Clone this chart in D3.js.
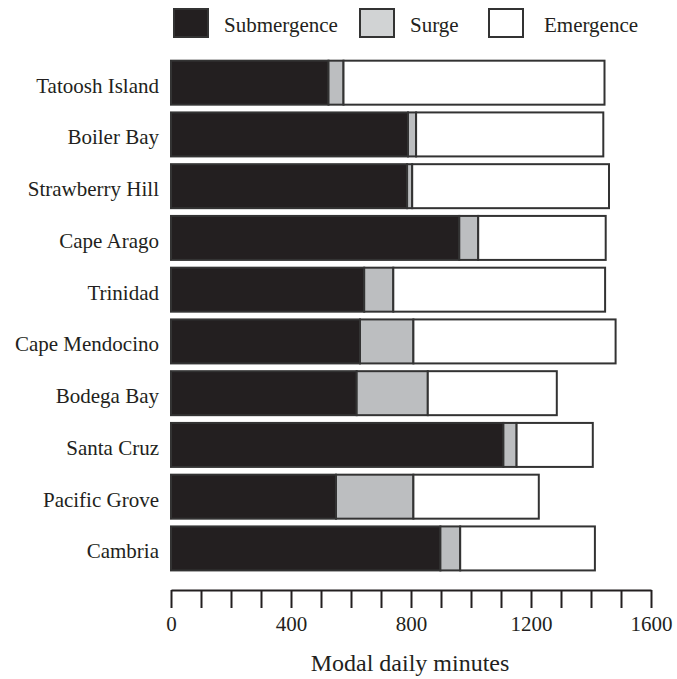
<!DOCTYPE html>
<html>
<head>
<meta charset="utf-8">
<script src="https://cdn.jsdelivr.net/npm/d3@7"></script>
<style>
  html, body { margin: 0; padding: 0; background: #fff; }
  svg { display: block; font-family: "Liberation Serif", "Times New Roman", serif; }
</style>
</head>
<body>
<svg id="chart" width="677" height="679"></svg>
<script>
// Sites, north to south
const sites = ["Tatoosh Island", "Boiler Bay", "Strawberry Hill", "Cape Arago", "Trinidad",
               "Cape Mendocino", "Bodega Bay", "Santa Cruz", "Pacific Grove", "Cambria"];
// Modal daily minutes in each state
const submergence = [525, 790, 787, 961, 644, 630, 619, 1108, 550, 898];
const surge       = [50, 27, 17, 63, 97, 178, 237, 44, 258, 66];
const emergence   = [870, 624, 656, 425, 706, 674, 430, 254, 418, 449];
const seriesNames = ["Submergence", "Surge", "Emergence"];
const xTicks = d3.range(0, 1601, 100);
const xTickLabels = [0, 400, 800, 1200, 1600];

const fills = { Submergence: "#231f20", Surge: "#bcbec0", Emergence: "#ffffff" };
const legendFills = { Submergence: "#231f20", Surge: "#d1d3d4", Emergence: "#ffffff" };

const rows = sites.map((s, i) => ({
  site: s, Submergence: submergence[i], Surge: surge[i], Emergence: emergence[i]
}));

const svg = d3.select("#chart");

const x = d3.scaleLinear().domain([0, 1600]).range([171, 651]);
const y = d3.scaleBand().domain(sites).range([56.8, 574.3])
  .paddingInner(0.15).paddingOuter(0.075);

const stacked = d3.stack().keys(seriesNames)(rows);

// Bars
svg.append("g").selectAll("g")
  .data(stacked)
  .join("g")
    .attr("fill", d => fills[d.key])
  .selectAll("rect")
  .data(d => d)
  .join("rect")
    .attr("x", d => x(d[0]))
    .attr("y", d => y(d.data.site))
    .attr("width", d => x(d[1]) - x(d[0]))
    .attr("height", y.bandwidth())
    .attr("stroke", "#333")
    .attr("stroke-width", 2);

// Site labels
svg.append("g").selectAll("text")
  .data(sites)
  .join("text")
    .attr("x", 159)
    .attr("y", d => y(d) + y.bandwidth() / 2 + 10)
    .attr("text-anchor", "end")
    .attr("font-size", 21)
    .attr("fill", "#231f20")
    .text(d => d);

// X axis
const axis = d3.axisBottom(x)
  .tickValues(xTicks)
  .tickSize(18)
  .tickSizeOuter(0)
  .tickPadding(8)
  .tickFormat(d => xTickLabels.includes(d) ? d : "");
const gx = svg.append("g").attr("transform", "translate(0,590)").call(axis);
gx.select(".domain").attr("stroke", "#231f20").attr("stroke-width", 2);
gx.selectAll(".tick line").attr("stroke", "#231f20").attr("stroke-width", 2);
gx.selectAll(".tick text")
  .attr("font-family", "Liberation Serif, Times New Roman, serif")
  .attr("font-size", 21)
  .attr("fill", "#231f20");

svg.append("text")
  .attr("x", 410)
  .attr("y", 671)
  .attr("text-anchor", "middle")
  .attr("font-size", 24)
  .attr("fill", "#231f20")
  .text("Modal daily minutes");

// Legend
const legendX = { Submergence: 174, Surge: 360, Emergence: 489 };
const legend = svg.append("g").selectAll("g")
  .data(seriesNames)
  .join("g")
    .attr("transform", d => `translate(${legendX[d]},9)`);
legend.append("rect")
  .attr("width", 34)
  .attr("height", 28)
  .attr("fill", d => legendFills[d])
  .attr("stroke", "#333")
  .attr("stroke-width", 2);
legend.append("text")
  .attr("x", d => d === "Submergence" ? 50 : (d === "Surge" ? 50 : 55))
  .attr("y", 23)
  .attr("font-size", 21)
  .attr("fill", "#231f20")
  .text(d => d);
</script>
</body>
</html>
